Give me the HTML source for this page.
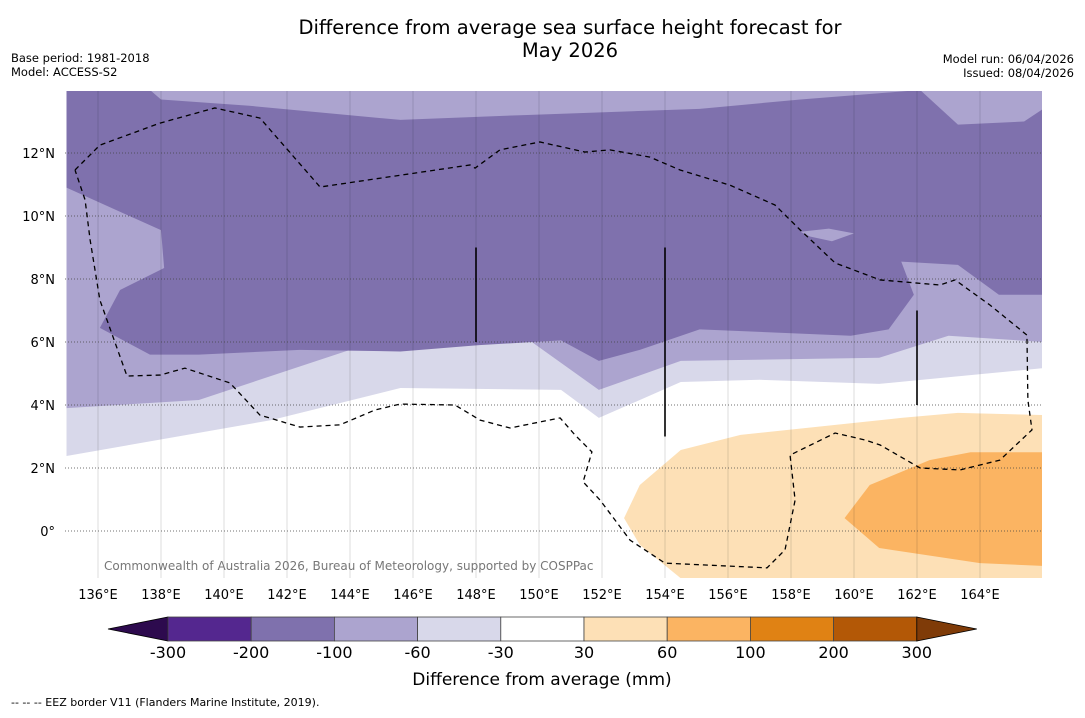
<!DOCTYPE html>
<html><head><meta charset="utf-8"><style>
body{margin:0;background:#fff;font-family:"Liberation Sans","DejaVu Sans",sans-serif}
svg text{font-family:"DejaVu Sans","Liberation Sans",sans-serif}
</style></head><body>
<svg id="s" width="1085" height="713" viewBox="0 0 1085 713">
<text x="570" y="34" font-size="19.5" text-anchor="middle">Difference from average sea surface height forecast for</text>
<text x="570" y="57" font-size="19.5" text-anchor="middle">May 2026</text>
<text x="11" y="62" font-size="11.5">Base period: 1981-2018</text>
<text x="11" y="76" font-size="11.5">Model: ACCESS-S2</text>
<text x="1074" y="63" font-size="11.5" text-anchor="end">Model run: 06/04/2026</text>
<text x="1074" y="77" font-size="11.5" text-anchor="end">Issued: 08/04/2026</text>
<defs><clipPath id="mc"><rect x="65" y="91" width="977" height="487"/></clipPath></defs>
<g id="map" clip-path="url(#mc)"></g>
<g id="axes"></g>
<g id="cb"></g>
<text x="542" y="685" font-size="17" text-anchor="middle">Difference from average (mm)</text>
<text x="11" y="706" font-size="11">--  --  -- EEZ border V11 (Flanders Marine Institute, 2019).</text>
</svg>
<script>
const NS="http://www.w3.org/2000/svg";
const lonTicks=[136,138,140,142,144,146,148,150,152,154,156,158,160,162,164];
const latTicks=[0,2,4,6,8,10,12];
const levels=[-300,-200,-100,-60,-30,30,60,100,200,300];
const levelColors=["#54278f","#7f71ad","#aca4cf","#d8d8ea","#ffffff","#fde0b6","#fbb462","#e08214","#b35806"];
const underColor="#2d0a4e", overColor="#7f3b08";
const bgLight=[[135,14],[166,14],[166,5.17],[160.8,4.67],[157,4.8],[154.5,4.73],[151.9,3.59],[150.7,4.48],[145.6,4.54],[141.5,3.52],[135,2.38]];
const bgMedium=[[135,14],[166,14],[166,6],[163,6.2],[160.8,5.5],[154.5,5.4],[151.9,4.48],[149.7,6.05],[147.8,5.97],[144,5.75],[139.2,4.16],[135,3.9]];
const darkRegion=[[135,14],[137.65,14],[138,13.7],[140.8,13.5],[145.6,13.05],[149.4,13.2],[155.1,13.4],[158.3,13.7],[162.1,14],[163.3,12.9],[165.4,13],[166,13.4],[166,7.5],[164.6,7.5],[163.3,8.45],[161.5,8.55],[161.9,7.5],[161.1,6.4],[159.9,6.2],[155.1,6.4],[153.2,5.75],[151.9,5.4],[150.7,6.05],[148.1,5.9],[145.6,5.7],[142.4,5.75],[139.2,5.6],[137.65,5.6],[136.06,6.45],[136.7,7.65],[138.1,8.35],[138,9.55],[135,10.9]];
const mediumPatch=[[158.3,9.5],[159.2,9.6],[160,9.45],[159.3,9.2],[158.6,9.35]];
const orangeLight=[[152.7,0.41],[153.2,1.46],[154.5,2.57],[156.4,3.05],[161.5,3.59],[163.3,3.75],[166,3.68],[166,-1.5],[154.5,-1.5],[153.2,-0.44]];
const orangeMid=[[159.7,0.41],[160.5,1.46],[162.4,2.25],[163.7,2.5],[166,2.5],[166,-1.11],[164,-1.02],[160.8,-0.54]];
const eez=[[135.27,11.46],[136.06,12.25],[137.97,12.95],[139.71,13.43],[141.14,13.11],[143.05,10.92],[147.81,11.62],[147.97,11.52],[148.76,12.1],[150.03,12.35],[151.46,12.03],[152.25,12.1],[153.52,11.87],[154.48,11.46],[156.06,10.98],[157.49,10.35],[158.29,9.56],[159.4,8.51],[160.83,7.97],[162.73,7.81],[163.21,7.97],[164.32,7.17],[165.49,6.22],[165.52,4.16],[165.65,3.21],[164.63,2.25],[163.37,1.94],[162.1,2.0],[160.83,2.73],[160.35,2.89],[159.4,3.11],[157.97,2.41],[158.13,0.98],[157.81,-0.6],[157.24,-1.17],[154.0,-1.02],[152.89,-0.29],[151.94,0.98],[151.4,1.56],[151.68,2.51],[151.14,3.05],[150.67,3.59],[149.08,3.27],[148.13,3.52],[147.33,4.0],[145.59,4.03],[144.79,3.84],[143.68,3.37],[142.41,3.3],[141.14,3.68],[140.19,4.7],[138.76,5.17],[137.97,4.95],[136.92,4.92],[136.06,7.33],[135.75,9.24],[135.59,10.51],[135.27,11.46]];
const blackLines=[[148,6,9],[154,3,9],[162,4,7]];
const X=lon=>66.5+(lon-135)*31.5;
const Y=lat=>531-lat*31.5;
function el(t,a,p){const e=document.createElementNS(NS,t);for(const k in a)e.setAttribute(k,a[k]);p.appendChild(e);return e;}
const map=document.getElementById('map'),axes=document.getElementById('axes'),cb=document.getElementById('cb');
el('rect',{x:65,y:91,width:977,height:487,fill:'#fff'},map);
function poly(pts,fill,name){const p=el('polygon',{points:pts.map(q=>X(q[0])+','+Y(q[1])).join(' '),fill:fill},map);

}
poly(bgLight,'#d8d8ea','contour-minus30-to-minus60');
poly(bgMedium,'#aca4cf','contour-minus60-to-minus100');
poly(darkRegion,'#7f71ad','contour-minus100-to-minus200');
poly(mediumPatch,'#aca4cf','contour-patch-minus60');
poly(orangeLight,'#fde0b6','contour-30-to-60');
poly(orangeMid,'#fbb462','contour-60-to-100');
lonTicks.forEach(l=>{const x=X(l);
const g=el('line',{x1:x,x2:x,y1:91,y2:578,stroke:'#000','stroke-opacity':0.22,'stroke-width':0.6},map);


const t=el('text',{x:x,y:599,'font-size':13,'text-anchor':'middle'},axes);t.textContent=l+'°E';

});
latTicks.forEach(l=>{const y=Y(l);
const g=el('line',{x1:65,x2:1042,y1:y,y2:y,stroke:'#444','stroke-width':0.8,'stroke-dasharray':'1,2'},map);


const t=el('text',{x:55,y:y+5,'font-size':13,'text-anchor':'end'},axes);t.textContent=(l===0?'0°':l+'°N');

});
blackLines.forEach(b=>{const ln=el('line',{x1:X(b[0]),x2:X(b[0]),y1:Y(b[2]),y2:Y(b[1]),stroke:'#000','stroke-width':1.6},map);

});
const ez=el('polyline',{points:eez.map(q=>X(q[0])+','+Y(q[1])).join(' '),fill:'none',stroke:'#000','stroke-width':1.3,'stroke-dasharray':'5,4'},map);


const cr=el('text',{x:104,y:570,'font-size':12,fill:'#777'},map);cr.textContent='Commonwealth of Australia 2026, Bureau of Meteorology, supported by COSPPac';


const cx0=168,cw=83.2,cy=617,ch=24;
const lt=el('polygon',{points:`108,629 ${cx0},${cy} ${cx0},${cy+ch}`,fill:underColor,stroke:'#000','stroke-width':0.8},cb);


levelColors.forEach((c,i)=>{const r=el('rect',{x:cx0+i*cw,y:cy,width:cw,height:ch,fill:c,stroke:'#444','stroke-width':0.8},cb);

});
const xe=cx0+levelColors.length*cw;
const rt=el('polygon',{points:`${xe},${cy} ${xe+60},629 ${xe},${cy+ch}`,fill:overColor,stroke:'#000','stroke-width':0.8},cb);


levels.forEach((v,i)=>{const t=el('text',{x:cx0+i*cw,y:658,'font-size':16,'text-anchor':'middle'},cb);t.textContent=v;

});
</script>
</body></html>
